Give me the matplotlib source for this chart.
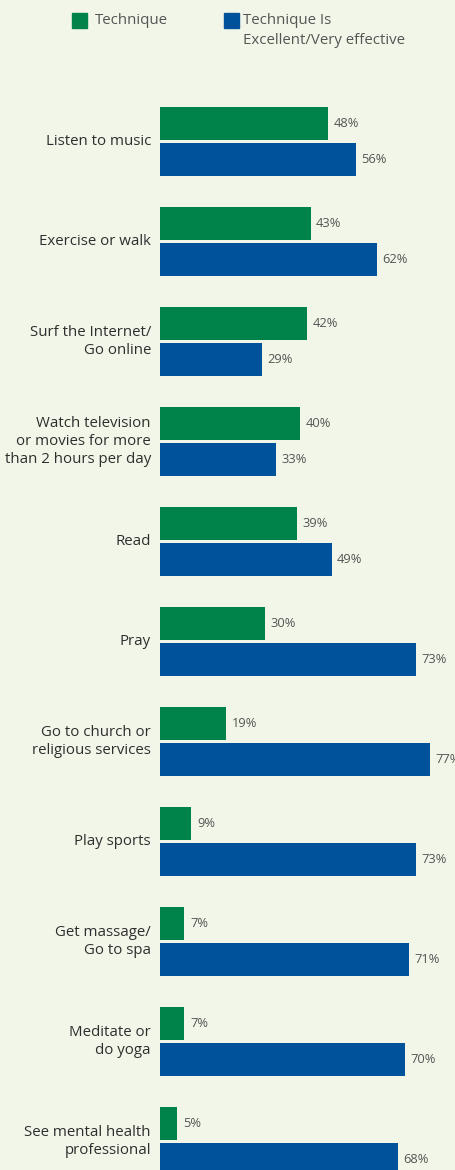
import numpy as np
import matplotlib.pyplot as plt
from matplotlib.patches import Rectangle

# Dane
categories = [
    "Listen to music",
    "Exercise or walk",
    "Surf the Internet/\nGo online",
    "Watch television\nor movies for more\nthan 2 hours per day",
    "Read",
    "Pray",
    "Go to church or\nreligious services",
    "Play sports",
    "Get massage/\nGo to spa",
    "Meditate or\ndo yoga",
    "See mental health\nprofessional",
]
technique = [48, 43, 42, 40, 39, 30, 19, 9, 7, 7, 5]
excellent = [56, 62, 29, 33, 49, 73, 77, 73, 71, 70, 68]

bg = "#f2f6e8"
green = "#00834a"
blue = "#00539b"
W, H = 456, 1170

plt.rcParams['font.family'] = ['Open Sans', 'DejaVu Sans']

fig = plt.figure(figsize=(W / 100, H / 100), dpi=100, facecolor=bg)
ax = fig.add_axes([160 / W, 0, (W - 160) / W, 1])
ax.set_facecolor(bg)

y = np.arange(len(categories))
off = 0.18
h = 0.33
ax.barh(y - off, technique, height=h, color=green)
ax.barh(y + off, excellent, height=h, color=blue)

for i in range(len(categories)):
    ax.text(technique[i] + 1.6, y[i] - off, f"{technique[i]}%", va='center', ha='left',
            fontsize=9.3, color='#555555')
    ax.text(excellent[i] + 1.6, y[i] + off, f"{excellent[i]}%", va='center', ha='left',
            fontsize=9.3, color='#555555', clip_on=False)
    ax.text(-2.6, y[i], categories[i], va='center', ha='right', fontsize=10.8,
            color='#2e2e2e', linespacing=1.3, clip_on=False)

ax.set_xlim(0, (W - 160) / 3.5)
ax.set_ylim((H - 141.5) / 100, -141.5 / 100)
ax.axis('off')

# Legenda
def px(x, yy):
    return x / W, 1 - yy / H

for x0, col in [(72, green), (224, blue)]:
    fig.add_artist(Rectangle(px(x0, 28), 15 / W, 15 / H, color=col,
                             transform=fig.transFigure))
fig.text(*px(95, 20), "Technique", va='center', ha='left', fontsize=10.8, color='#555555')
fig.text(*px(243, 20), "Technique Is", va='center', ha='left', fontsize=10.8, color='#555555')
fig.text(*px(243, 40), "Excellent/Very effective", va='center', ha='left', fontsize=10.8,
         color='#555555')

fig.savefig("out.png", dpi=100, facecolor=bg)
